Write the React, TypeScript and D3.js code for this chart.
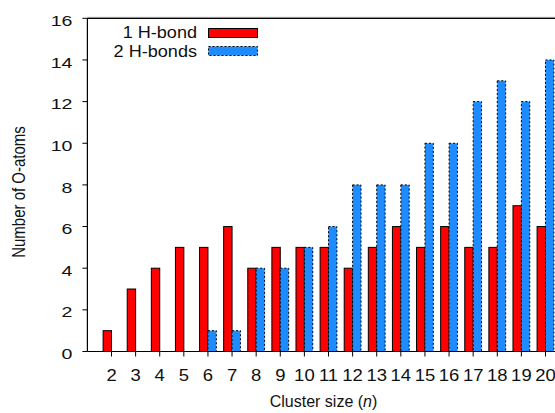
import React from "react";
import * as d3 from "d3";

const clusterSizes = [2, 3, 4, 5, 6, 7, 8, 9, 10, 11, 12, 13, 14, 15, 16, 17, 18, 19, 20];
const oneHBond = [1, 3, 4, 5, 5, 6, 4, 5, 5, 5, 4, 5, 6, 5, 6, 5, 5, 7, 6];
const twoHBonds = [0, 0, 0, 0, 1, 1, 4, 4, 5, 6, 8, 8, 8, 10, 10, 12, 13, 12, 14];
const yTicks = [0, 2, 4, 6, 8, 10, 12, 14, 16];
const seriesNames = ["1 H-bond", "2 H-bonds"];

const W = 555;
const H = 413;
const FONT = "'Liberation Sans', Arial, Helvetica, sans-serif";

export default function App() {
  const x = d3.scaleLinear().domain([1, 21]).range([87.4, 569.6]);
  const y = d3.scaleLinear().domain([0, 16]).range([351.5, 18.3]);
  const bw = 8.4;
  const y0 = y(0);

  return (
    <svg
      width={W}
      height={H}
      style={{ position: "absolute", left: 0, top: 0, background: "#fff" }}
      fontFamily={FONT}
    >
      {/* bars */}
      {clusterSizes.map((n, i) => (
        <g key={"b" + n}>
          {oneHBond[i] > 0 && (
            <rect
              x={x(n) - bw}
              y={y(oneHBond[i])}
              width={bw}
              height={y0 - y(oneHBond[i])}
              fill="#ff0000"
              stroke="#000"
              strokeWidth={1}
            />
          )}
          {twoHBonds[i] > 0 && (
            <rect
              x={x(n)}
              y={y(twoHBonds[i])}
              width={bw}
              height={y0 - y(twoHBonds[i])}
              fill="#1e8cff"
              stroke="#000"
              strokeWidth={1}
              strokeDasharray="2,2"
            />
          )}
        </g>
      ))}

      {/* frame */}
      <line x1={x(1)} x2={W} y1={y(16) - 1} y2={y(16) - 1} stroke="#bbb" strokeWidth={1} />
      <line x1={x(1)} x2={W} y1={y(16)} y2={y(16)} stroke="#000" strokeWidth={1.2} />
      <line x1={x(1)} x2={x(1)} y1={y(16)} y2={y0} stroke="#000" strokeWidth={1.2} />
      <line x1={x(1)} x2={W} y1={y0} y2={y0} stroke="#000" strokeWidth={1.2} />

      {/* y ticks */}
      {yTicks.map((t) => (
        <g key={"y" + t}>
          <line x1={x(1) - 5} x2={x(1)} y1={y(t)} y2={y(t)} stroke="#000" strokeWidth={1} />
          <text
            transform={`translate(72.5, ${y(t) + 7.6}) scale(1.28, 1)`}
            textAnchor="end"
            fontSize={15.3}
            fill="#111"
          >
            {t}
          </text>
        </g>
      ))}

      {/* x ticks */}
      {clusterSizes.map((n) => (
        <g key={"x" + n}>
          <line x1={x(n)} x2={x(n)} y1={y0} y2={y0 + 5} stroke="#000" strokeWidth={1} />
          <text
            transform={`translate(${x(n)}, 380.5) scale(1.14, 1)`}
            textAnchor="middle"
            fontSize={16.2}
            fill="#111"
          >
            {n}
          </text>
        </g>
      ))}

      {/* axis titles */}
      <text x={323.5} y={407} textAnchor="middle" fontSize={16} fill="#111">
        Cluster size (<tspan fontStyle="italic">n</tspan>)
      </text>
      <text
        transform={`translate(25, 192) scale(1.17, 1) rotate(-90)`}
        textAnchor="middle"
        fontSize={15}
        fill="#111"
      >
        Number of O-atoms
      </text>

      {/* legend */}
      <text
        transform="translate(197, 38) scale(1.16, 1)"
        textAnchor="end"
        fontSize={15.6}
        fill="#111"
      >
        {seriesNames[0]}
      </text>
      <rect x={208.5} y={28.5} width={49} height={9} fill="#ff0000" stroke="#000" strokeWidth={1} />
      <text
        transform="translate(197, 56.5) scale(1.16, 1)"
        textAnchor="end"
        fontSize={15.6}
        fill="#111"
      >
        {seriesNames[1]}
      </text>
      <rect
        x={208.5}
        y={46.5}
        width={49}
        height={9}
        fill="#1e8cff"
        stroke="#000"
        strokeWidth={1}
        strokeDasharray="2,2"
      />
    </svg>
  );
}
